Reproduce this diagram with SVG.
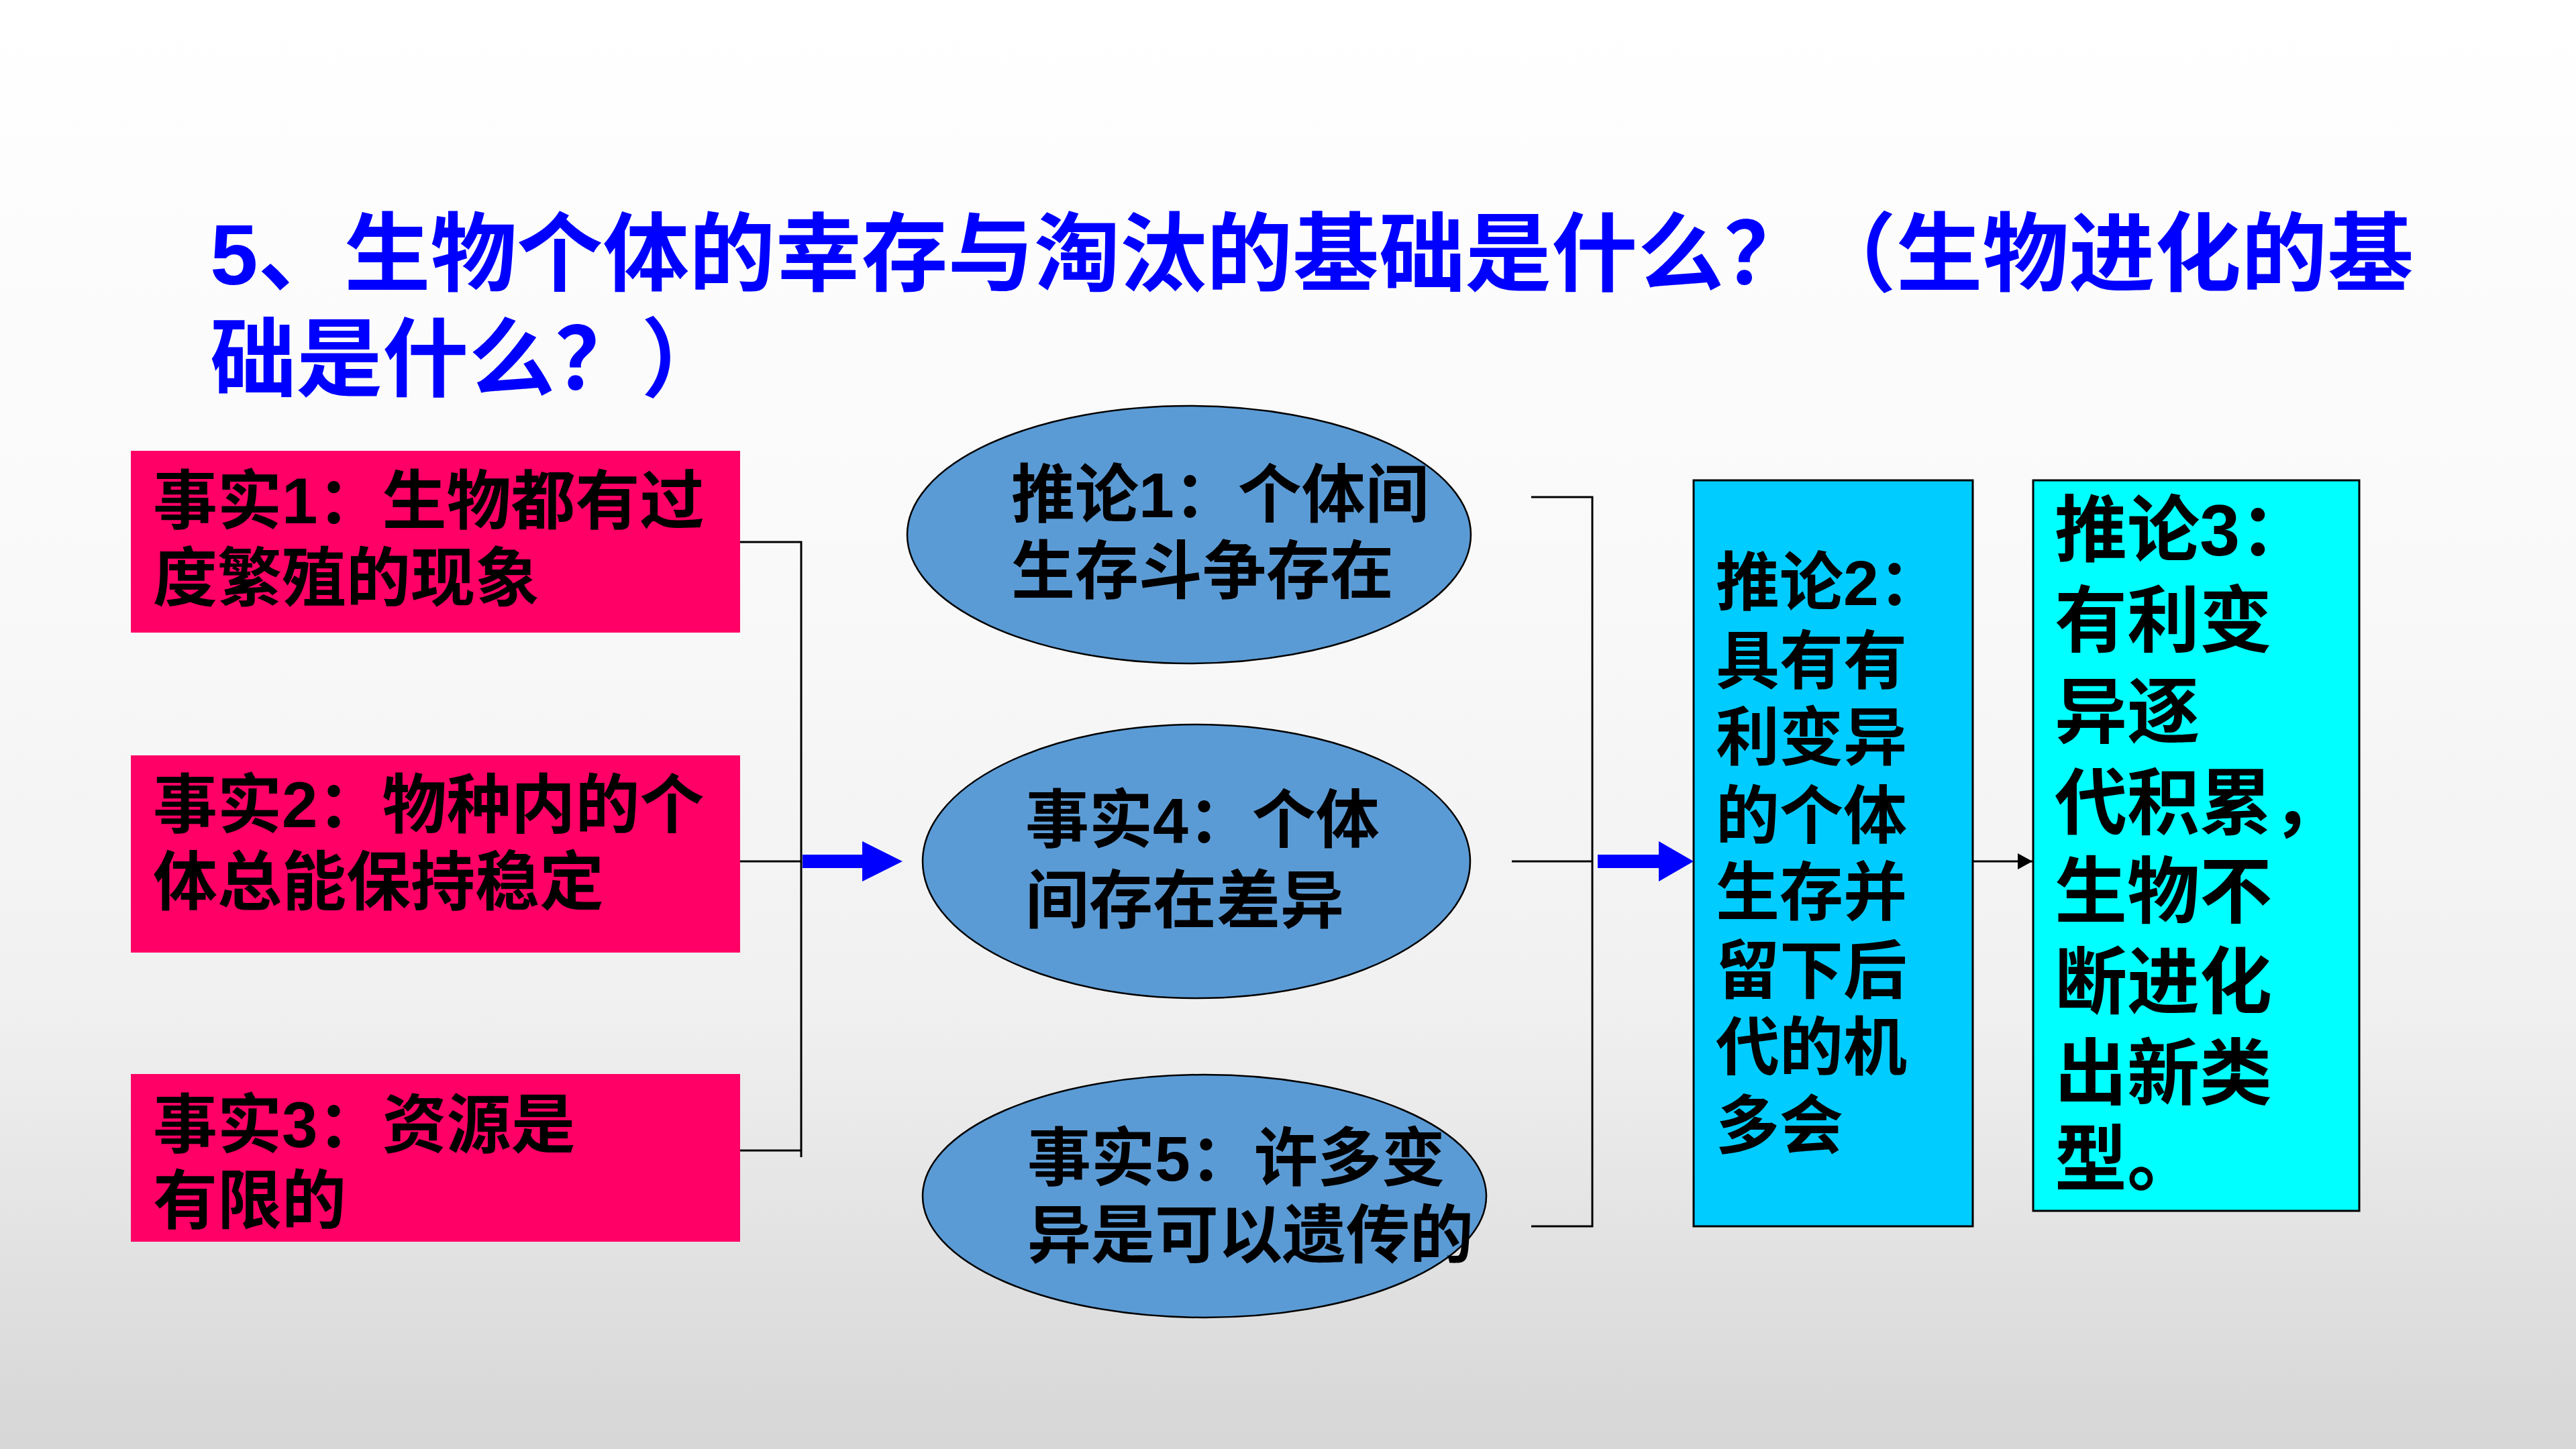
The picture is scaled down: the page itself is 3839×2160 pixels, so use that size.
<svg xmlns="http://www.w3.org/2000/svg" width="3839" height="2160" viewBox="0 0 3839 2160">
  <defs>
    <linearGradient id="bg" x1="0" y1="0" x2="0" y2="1">
      <stop offset="0" stop-color="#ffffff"/>
      <stop offset="0.45" stop-color="#f8f8f8"/>
      <stop offset="0.7" stop-color="#f0f0f0"/>
      <stop offset="1" stop-color="#d6d6d6"/>
    </linearGradient>
    <marker id="blackArrow" markerWidth="22" markerHeight="24" refX="22" refY="12" orient="auto" markerUnits="userSpaceOnUse">
      <path d="M0,0 L22,12 L0,24 Z" fill="#000000"/>
    </marker>
    <style>
      .t { font-family: "Liberation Sans", "Noto Sans CJK SC", sans-serif; font-weight: bold; fill: #000000; }
      .title { font-family: "Liberation Sans", "Noto Sans CJK SC", sans-serif; font-weight: bold; fill: #0000FF; font-size: 128.5px; }
      .fact { fill: #FF0066; }
      .ell { fill: #5B9BD5; stroke: #000000; stroke-width: 2.5; }
      .line { fill: none; stroke: #000000; stroke-width: 3; }
      .blue { fill: #0000FF; }
    </style>
  </defs>

  <rect x="0" y="0" width="3839" height="2160" fill="url(#bg)"/>

  <g id="title">
    <text class="title" x="313" y="424">5、生物个体的幸存与淘汰的基础是什么？（生物进化的基</text>
    <text class="title" x="313" y="581">础是什么？）</text>
  </g>

  <g id="fact1">
    <rect class="fact" x="195" y="672" width="908" height="271"/>
    <text class="t" font-size="96" x="228" y="780">事实1：生物都有过</text>
    <text class="t" font-size="96" x="228" y="895">度繁殖的现象</text>
  </g>

  <g id="fact2">
    <rect class="fact" x="195" y="1126" width="908" height="294"/>
    <text class="t" font-size="96" x="228" y="1233">事实2：物种内的个</text>
    <text class="t" font-size="96" x="228" y="1348">体总能保持稳定</text>
  </g>

  <g id="fact3">
    <rect class="fact" x="195" y="1601" width="908" height="250"/>
    <text class="t" font-size="96" x="228" y="1710">事实3：资源是</text>
    <text class="t" font-size="96" x="228" y="1823">有限的</text>
  </g>

  <g id="inference1">
    <ellipse class="ell" cx="1772" cy="797" rx="420" ry="192"/>
    <text class="t" font-size="95" x="1507" y="771">推论1：个体间</text>
    <text class="t" font-size="95" x="1507" y="885">生存斗争存在</text>
  </g>

  <g id="fact4">
    <ellipse class="ell" cx="1783" cy="1284" rx="408" ry="204"/>
    <text class="t" font-size="95" x="1528" y="1256">事实4：个体</text>
    <text class="t" font-size="95" x="1528" y="1376">间存在差异</text>
  </g>

  <g id="fact5">
    <ellipse class="ell" cx="1795" cy="1783" rx="420" ry="181"/>
    <text class="t" font-size="95" x="1531" y="1760">事实5：许多变</text>
    <text class="t" font-size="95" x="1531" y="1875">异是可以遗传的</text>
  </g>

  <g id="inference2">
    <rect x="2524" y="716" width="416" height="1112" fill="#00CCFF" stroke="#000000" stroke-width="3"/>
    <text class="t" font-size="95">
      <tspan x="2557" y="902">推论2：</tspan>
      <tspan x="2557" y="1019">具有有</tspan>
      <tspan x="2557" y="1133">利变异</tspan>
      <tspan x="2557" y="1250">的个体</tspan>
      <tspan x="2557" y="1364">生存并</tspan>
      <tspan x="2557" y="1481">留下后</tspan>
      <tspan x="2557" y="1595">代的机</tspan>
      <tspan x="2557" y="1712">多会</tspan>
    </text>
  </g>

  <g id="inference3">
    <rect x="3030" y="716" width="486" height="1089" fill="#00FFFF" stroke="#000000" stroke-width="3"/>
    <text class="t" font-size="108">
      <tspan x="3062" y="828">推论3：</tspan>
      <tspan x="3062" y="963">有利变</tspan>
      <tspan x="3062" y="1099">异逐</tspan>
      <tspan x="3062" y="1235">代积累，</tspan>
      <tspan x="3062" y="1367">生物不</tspan>
      <tspan x="3062" y="1502">断进化</tspan>
      <tspan x="3062" y="1638">出新类</tspan>
      <tspan x="3062" y="1766">型。</tspan>
    </text>
  </g>

  <g id="connectors">
    <!-- left bracket joining facts 1-3 -->
    <polyline class="line" points="1103,808 1194,808 1194,1725"/>
    <line class="line" x1="1103" y1="1284" x2="1194" y2="1284"/>
    <line class="line" x1="1103" y1="1715" x2="1194" y2="1715"/>
    <!-- blue block arrow to fact 4 ellipse -->
    <path class="blue" d="M1196,1274 L1285,1274 L1285,1254 L1345,1284 L1285,1314 L1285,1294 L1196,1294 Z"/>
    <!-- right bracket joining the ellipses -->
    <polyline class="line" points="2282,741 2373,741 2373,1828 2282,1828"/>
    <line class="line" x1="2253" y1="1284" x2="2373" y2="1284"/>
    <!-- blue block arrow to inference 2 -->
    <path class="blue" d="M2381,1274 L2472,1274 L2472,1254 L2524,1284 L2472,1314 L2472,1294 L2381,1294 Z"/>
    <!-- arrow inference 2 to inference 3 -->
    <line x1="2940" y1="1284" x2="3029" y2="1284" stroke="#000000" stroke-width="3" marker-end="url(#blackArrow)"/>
  </g>
</svg>
